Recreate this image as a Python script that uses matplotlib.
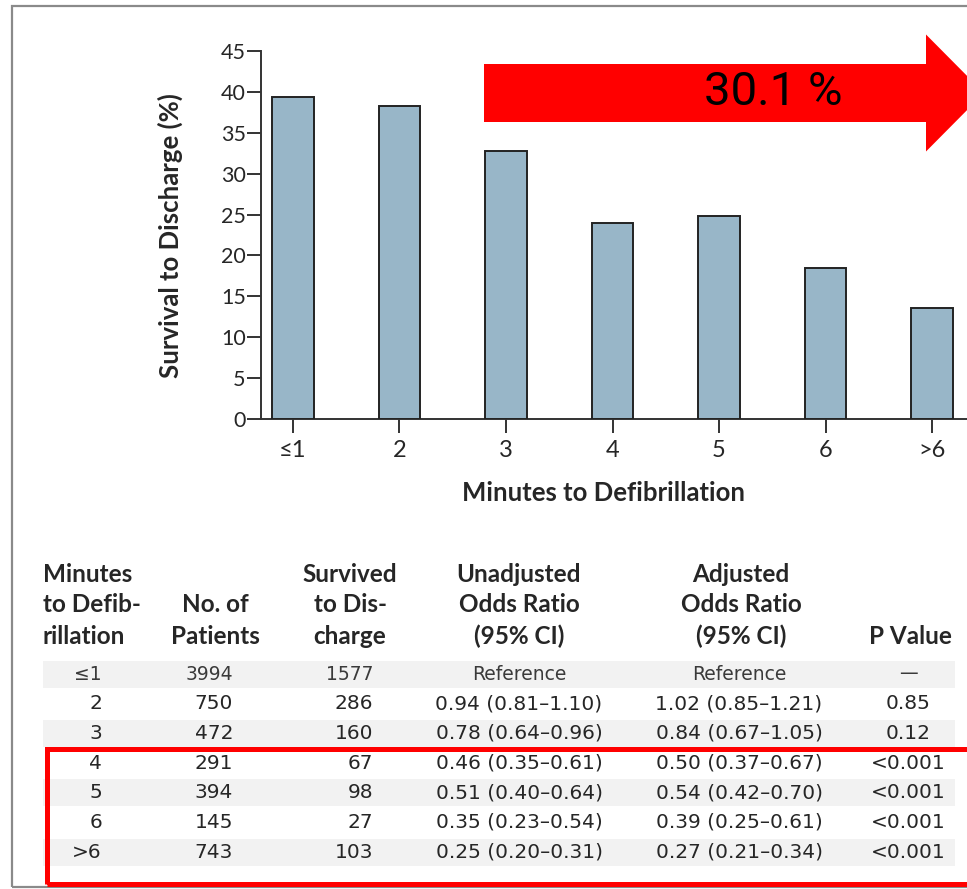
import matplotlib
matplotlib.use("Agg")
import matplotlib.pyplot as plt
from matplotlib.patches import Rectangle, FancyArrow

# chart data
minutes = ["≤1", "2", "3", "4", "5", "6", ">6"]
survival_pct = [39.4, 38.3, 32.8, 24.0, 24.8, 18.5, 13.6]
y_ticks = [0, 5, 10, 15, 20, 25, 30, 35, 40, 45]

# table data
n_patients = ["3994", "750", "472", "291", "394", "145", "743"]
n_survived = ["1577", "286", "160", "67", "98", "27", "103"]
unadj_or = ["Reference", "0.94 (0.81–1.10)", "0.78 (0.64–0.96)", "0.46 (0.35–0.61)",
            "0.51 (0.40–0.64)", "0.35 (0.23–0.54)", "0.25 (0.20–0.31)"]
adj_or = ["Reference", "1.02 (0.85–1.21)", "0.84 (0.67–1.05)", "0.50 (0.37–0.67)",
          "0.54 (0.42–0.70)", "0.39 (0.25–0.61)", "0.27 (0.21–0.34)"]
p_values = ["—", "0.85", "0.12", "<0.001", "<0.001", "<0.001", "<0.001"]
arrow_label = "30.1 %"

W, H = 967, 889
fig = plt.figure(figsize=(W / 100, H / 100), dpi=100)
inch = fig.dpi_scale_trans


def fx(x):
    return x / W


def fy(y):
    return 1 - y / H


lato = ["Lato", "DejaVu Sans"]
ink = "#262626"

# outer gray frame
fig.patches.append(Rectangle((0.12, (H - 887) / 100), 10.0, (887 - 6) / 100,
                             transform=inch, fill=False, edgecolor="#8a8a8a", lw=1.6))

# bar chart
ax = fig.add_axes([fx(261), fy(419), (980 - 261) / W, (419 - 51) / H])
x = list(range(len(minutes)))
ax.bar(x, survival_pct, width=0.39, color="#98b6c8", edgecolor="#222222", linewidth=1.4, zorder=3)
ax.set_xlim(-0.30, 6.45)
ax.set_ylim(0, 45)
ax.set_yticks(y_ticks)
ax.set_xticks(x)
ax.set_xticklabels(minutes)
for s in ["top", "right"]:
    ax.spines[s].set_visible(False)
for s in ["left", "bottom"]:
    ax.spines[s].set_color("#333333")
    ax.spines[s].set_linewidth(1.4)
ax.tick_params(axis="y", length=10, width=1.4, color="#333333", pad=1, labelsize=15.5,
               labelcolor=ink)
ax.tick_params(axis="x", length=10, width=1.4, color="#333333", pad=5, labelsize=17,
               labelcolor=ink)
for lab in ax.get_yticklabels() + ax.get_xticklabels():
    lab.set_family(lato)
ax.set_ylabel("Survival to Discharge (%)", fontsize=18.5, fontweight="bold", family=lato,
              color=ink)
ax.yaxis.set_label_coords(-(261 - 170) / (980 - 261), (419 - 236) / (419 - 51))
ax.set_xlabel("Minutes to Defibrillation", fontsize=18.5, fontweight="bold", family=lato,
              color=ink)
ax.xaxis.set_label_coords((603 - 261) / (980 - 261), -(493 - 419) / (419 - 51))
ax.xaxis.label.set_va("center")
ax.yaxis.label.set_va("center")

# red arrow
fig.patches.append(FancyArrow(4.84, (H - 93) / 100, 5.0, 0, width=0.58, head_width=1.17,
                              head_length=0.58, length_includes_head=True, transform=inch,
                              color="#ff0000", lw=0))
fig.text(fx(773), fy(92), arrow_label, fontsize=34, family=["Roboto", "DejaVu Sans"],
         color="black", ha="center", va="center")

# table header
hdr = dict(fontsize=17.5, fontweight="bold", family=lato, color=ink, va="center")
line_y = [575, 605, 636]
fig.text(fx(43), fy(575), "Minutes", ha="left", **hdr)
fig.text(fx(43), fy(605), "to Defib-", ha="left", **hdr)
fig.text(fx(43), fy(636), "rillation", ha="left", **hdr)
headers = [
    (215, ["", "No. of", "Patients"]),
    (350, ["Survived", "to Dis-", "charge"]),
    (519, ["Unadjusted", "Odds Ratio", "(95% CI)"]),
    (741, ["Adjusted", "Odds Ratio", "(95% CI)"]),
    (910, ["", "", "P Value"]),
]
for cx, lines in headers:
    for ly, t in zip(line_y, lines):
        if t:
            fig.text(fx(cx), fy(ly), t, ha="center", **hdr)

# table rows
row_y0, row_dy = 674, 29.7
cell = dict(family="DejaVu Sans", va="center")
for i in range(len(minutes)):
    yy = row_y0 + i * row_dy
    if i % 2 == 0:
        fig.patches.append(Rectangle((fx(43), fy(yy + 13.5)), fx(955) - fx(43), 27 / H,
                                     transform=fig.transFigure, color="#f2f2f2", lw=0, zorder=0))
    col = "#3a3a3a" if i == 0 else ink
    sz = 13.5 if i == 0 else 14.5
    fig.text(fx(102), fy(yy), minutes[i], ha="right", color=col, fontsize=sz, **cell)
    fig.text(fx(233), fy(yy), n_patients[i], ha="right", color=col, fontsize=sz, **cell)
    fig.text(fx(373), fy(yy), n_survived[i], ha="right", color=col, fontsize=sz, **cell)
    fig.text(fx(519), fy(yy), unadj_or[i], ha="center", color=col, fontsize=sz, **cell)
    fig.text(fx(739), fy(yy), adj_or[i], ha="center", color=col, fontsize=sz, **cell)
    fig.text(fx(908), fy(yy), p_values[i], ha="center", color=col, fontsize=sz, **cell)

# red box around rows 4 to >6
fig.patches.append(Rectangle((0.47, (H - 884) / 100), 10.0, (884 - 749) / 100, transform=inch,
                             fill=False, edgecolor="#ff0000", lw=3.6))

fig.savefig("out.png", dpi=100)
